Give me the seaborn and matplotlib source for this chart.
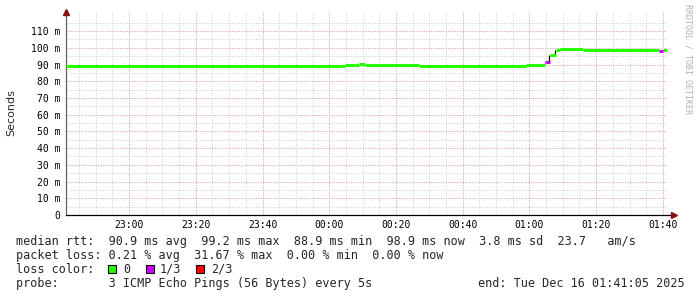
import numpy as np
import pandas as pd
import matplotlib
matplotlib.use("Agg")
import matplotlib.pyplot as plt
from matplotlib.patches import Rectangle
import seaborn as sns

# ---------------- data (minutes relative to 23:00) ----------------
seg_start = [-18.9, 64.8, 67.8, 69.0, 70.8, 72.1, 86.8, 118.9, 124.8, 126.1, 127.9, 129.1, 136.0, 158.8, 160.0]
seg_end   = [64.8, 67.8, 69.0, 70.8, 72.1, 86.8, 118.9, 124.8, 126.1, 127.9, 129.1, 136.0, 158.8, 160.0, 161.08]
median_rtt = [89.2, 89.5, 89.8, 90.5, 89.7, 89.6, 89.2, 89.5, 91.3, 95.5, 98.8, 99.2, 98.7, 98.2, 98.9]
loss_level = ["0", "0", "0", "0", "0", "0", "0", "0", "1/3", "0", "0", "0", "0", "1/3", "0"]

smoke_t  = [125.9, 127.8]
smoke_lo = [91.3, 95.5]
smoke_hi = [95.5, 98.8]

loss_names = ["0", "1/3", "2/3"]
loss_colors = ["#26ff00", "#cc00ff", "#ff0000"]

x_ticks = [0, 20, 40, 60, 80, 100, 120, 140, 160]
x_labels = ["23:00", "23:20", "23:40", "00:00", "00:20", "00:40", "01:00", "01:20", "01:40"]
y_ticks = [0, 10, 20, 30, 40, 50, 60, 70, 80, 90, 100, 110]
y_labels = ["0", "10 m", "20 m", "30 m", "40 m", "50 m", "60 m", "70 m", "80 m", "90 m", "100 m", "110 m"]

t_start, t_end = -18.9, 161.08
y_max = 121.4

line1 = "median rtt:  90.9 ms avg  99.2 ms max  88.9 ms min  98.9 ms now  3.8 ms sd  23.7   am/s"
line2 = "packet loss: 0.21 % avg  31.67 % max  0.00 % min  0.00 % now"
line3 = "loss color:"
line4 = "probe:       3 ICMP Echo Pings (56 Bytes) every 5s"
end_text = "end: Tue Dec 16 01:41:05 2025"
watermark = "RRDTOOL / TOBI OETIKER"

# ---------------- build table ----------------
rows = []
for i, (s, e, v, l) in enumerate(zip(seg_start, seg_end, median_rtt, loss_level)):
    rows.append({"t": s, "rtt": v, "loss": l, "seg": i})
    rows.append({"t": e, "rtt": v, "loss": l, "seg": i})
df = pd.DataFrame(rows)

sns.set_style("white")
plt.rcParams["font.family"] = ["DejaVu Sans Mono", "DejaVu Sans"]

W, H = 697, 297
fig = plt.figure(figsize=(W / 100, H / 100), dpi=100)
fig.patch.set_facecolor("white")

ax_left, ax_right, ax_bottom, ax_top = 66, 666.5, 215, 12
ax = fig.add_axes([ax_left / W, 1 - ax_bottom / H, (ax_right - ax_left) / W, (ax_bottom - ax_top) / H])
ax.set_facecolor("white")

ax.set_xlim(t_start, t_end)
ax.set_ylim(0, y_max)

# grid
minor_x = np.arange(-15, 165, 5)
minor_y = np.arange(5, 120, 5)
for xv in minor_x:
    ax.axvline(xv, color="#cfcfcf", lw=0.7, ls=(0, (1, 1.5)), zorder=0)
for yv in minor_y:
    ax.axhline(yv, color="#cfcfcf", lw=0.7, ls=(0, (1, 1.5)), zorder=0)
for xv in x_ticks:
    ax.axvline(xv, color="#e8a8a8", lw=0.7, ls=(0, (1, 1.5)), zorder=0.5)
for yv in y_ticks[1:]:
    ax.axhline(yv, color="#e8a8a8", lw=0.7, ls=(0, (1, 1.5)), zorder=0.5)

# smoke
ax.vlines(smoke_t, smoke_lo, smoke_hi, color="black", lw=0.9, zorder=2)

# median line, coloured by loss
palette = dict(zip(loss_names, loss_colors))
sns.lineplot(data=df, x="t", y="rtt", hue="loss", units="seg", estimator=None,
             palette=palette, hue_order=loss_names, linewidth=2.2, legend=False,
             ax=ax, zorder=3, solid_capstyle="butt")

# axes styling
for sp in ["top", "right"]:
    ax.spines[sp].set_visible(False)
ax.spines["left"].set_color("#606060")
ax.spines["left"].set_linewidth(0.9)
ax.spines["bottom"].set_color("black")
ax.spines["bottom"].set_linewidth(0.9)
ax.spines["bottom"].set_zorder(4)

ax.set_xticks(x_ticks)
ax.set_xticklabels(x_labels)
ax.set_yticks(y_ticks)
ax.set_yticklabels(y_labels)
ax.tick_params(axis="both", length=0, labelsize=7, colors="black")
ax.tick_params(axis="x", pad=3.5)
ax.tick_params(axis="y", pad=4)
ax.set_xlabel("")
ax.set_ylabel("")

# axis arrows
ax.plot([1.0, 1.012], [0, 0], transform=ax.transAxes, color="black", lw=0.9, clip_on=False, zorder=4)
ax.plot([1.012], [0], marker=">", ms=5, color="#8b1010", transform=ax.transAxes, clip_on=False, zorder=5)
ax.plot([0], [1.0], marker="^", ms=5, color="#8b1010", transform=ax.transAxes, clip_on=False, zorder=5)

# y label
fig.text(11 / W, 1 - 113 / H, "Seconds", rotation=90, ha="center", va="center",
         fontsize=8, family="DejaVu Sans")

# watermark
fig.text(688 / W, 1 - 59 / H, watermark, rotation=270, ha="center", va="center",
         fontsize=6, color="#b0b0b0", family="DejaVu Sans Mono")

# legend text rows
fs = 8.5
fig.text(16 / W, 1 - 242 / H, line1, ha="left", va="center", fontsize=fs)
fig.text(16 / W, 1 - 255.5 / H, line2, ha="left", va="center", fontsize=fs)
fig.text(16 / W, 1 - 269.5 / H, line3, ha="left", va="center", fontsize=fs)
fig.text(16 / W, 1 - 283.5 / H, line4, ha="left", va="center", fontsize=fs)
fig.text(478 / W, 1 - 283.5 / H, end_text, ha="left", va="center", fontsize=fs)

box_x = [108, 146, 196]
lab_x = [123, 160, 211]
for bx, lx, name, col in zip(box_x, lab_x, loss_names, loss_colors):
    fig.add_artist(Rectangle((bx / W, 1 - 273 / H), 8 / W, 8 / H, transform=fig.transFigure,
                             facecolor=col, edgecolor="black", lw=0.8))
    fig.text(lx / W, 1 - 269.5 / H, name, ha="left", va="center", fontsize=fs)

fig.savefig("out.png", dpi=100, facecolor="white")
